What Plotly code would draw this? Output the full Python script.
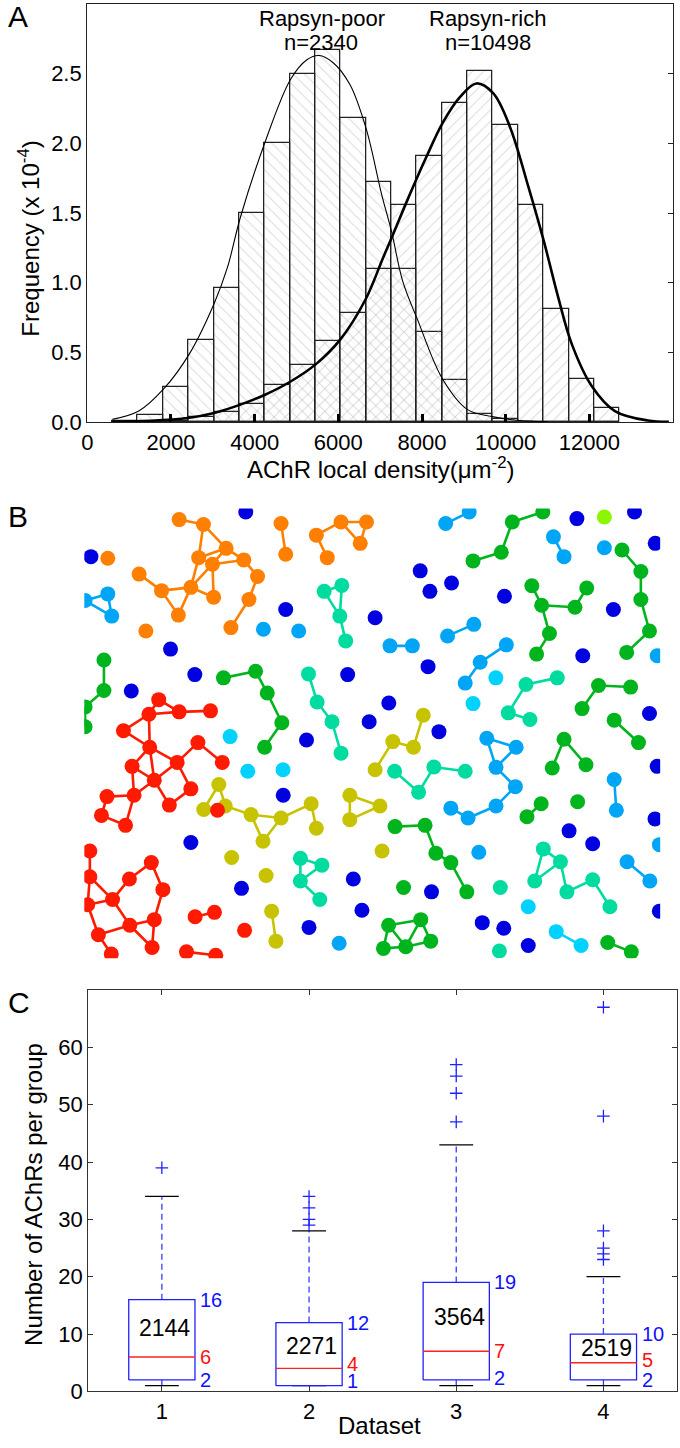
import plotly.graph_objects as go

# ---------------- Panel A data ----------------
bin_edges = [600, 1206, 1812, 2418, 3024, 3630, 4236, 4842, 5448, 6054, 6660,
             7266, 7872, 8478, 9084, 9690, 10296, 10902, 11508, 12114, 12720]
poor_freq = [0.01, 0.05, 0.25, 0.59, 0.96, 1.50, 2.00, 2.50, 2.67, 2.18, 1.72,
             1.10, 0.65, 0.30, 0.06, 0.024, 0.005, 0.0, 0.0, 0.0]
rich_freq = [0.0, 0.003, 0.01, 0.038, 0.071, 0.133, 0.27, 0.41, 0.58, 0.78, 1.10,
             1.56, 1.91, 2.29, 2.52, 2.13, 1.56, 0.81, 0.31, 0.104]
poor_fit_x = [600, 1230, 1830, 2440, 3030, 3350, 3660, 4250, 4860, 5250, 5540,
              5870, 6280, 6670, 7030, 7270, 7540, 7900, 8490, 9090, 9680, 10270, 11000]
poor_fit_y = [0.02, 0.08, 0.24, 0.49, 0.85, 1.11, 1.47, 2.01, 2.46, 2.60, 2.63,
              2.58, 2.42, 2.10, 1.64, 1.37, 1.01, 0.73, 0.31, 0.09, 0.04, 0.014, 0.003]
rich_fit_x = [600, 1500, 2400, 3030, 3660, 4250, 4850, 5480, 6040, 6650, 7070, 7270,
              7660, 8100, 8500, 8900, 9300, 9700, 10100, 10550, 10910, 11260, 11580,
              12055, 12610, 13400, 13900]
rich_fit_y = [0.003, 0.01, 0.03, 0.066, 0.126, 0.197, 0.29, 0.42, 0.59, 0.88, 1.18, 1.32,
              1.60, 1.90, 2.15, 2.33, 2.43, 2.36, 2.12, 1.68, 1.30, 0.89, 0.56,
              0.26, 0.08, 0.012, 0.003]
a_xticks = [0, 2000, 4000, 6000, 8000, 10000, 12000]
a_xticktext = ["0", "2000", "4000", "6000", "8000", "10000", "12000"]
a_yticks = [0.0, 0.5, 1.0, 1.5, 2.0, 2.5]
a_yticktext = ["0.0", "0.5", "1.0", "1.5", "2.0", "2.5"]
group_names = ["Rapsyn-poor", "Rapsyn-rich"]
group_n = ["n=2340", "n=10498"]

# ---------------- Panel B data (positions in image units) ----------------
orange_x = [95.7, 120.2, 198.5, 259, 284.7, 234.1, 278.4, 245.1, 23.7, 55.3, 77.9, 115.4, 129.3,
            143.1, 160.9, 203.2, 107.5, 130.5, 174.8, 166.1, 94.9, 62.1, 147.9]
orange_y = [11.3, 16.3, 15.3, 13.7, 13.7, 27, 35.3, 49.7, 50.3, 66.3, 83, 49.7, 56.3,
            40.3, 52, 46.3, 79.7, 89.7, 68.7, 92, 107.7, 123.7, 120.3]
blue_x = [162.9, 6.7, 338.9, 348.7, 370.5, 423.9, 533.8, 203.2, 293.4, 87, 111.5, 47.4, 265.7,
          346.8, 502.9, 307.2, 287.4, 357.8, 224.2, 570.2, 497, 555.1, 576, 578,
          107.5, 158.6, 200.7, 271.4, 280.1, 226.7, 350.3, 401.5, 423.2, 447.9, 489.1,
          512.9, 575.8, 580.2]
blue_y = [3.7, 48.7, 63, 83.7, 75.3, 88.7, 102, 102, 110.3, 142, 167.7, 184.3, 167.7,
          159.7, 148.7, 196.3, 215.3, 225.3, 233.7, 207, 10.3, 3.7, 35.3, 260.3,
          337.1, 383.4, 289.5, 373.9, 405.5, 422.8, 386.9, 418, 423.7, 441, 325.4,
          338.4, 313.3, 406.4]
lime_x = [524.7]
lime_y = [8.7]
sky_x = [364.6, 388.3, 473.3, 484, 524.7, 23.7, 27.7, 0.8, 180.7, 216.3, 308.4, 331, 366.5,
         393, 399.4, 425.8, 406.1, 435.7, 384.3, 578, 369.8, 387.2, 398, 415.4, 434.9,
         415.4, 536.8, 547.6, 570.6, 580.2, 257.1, 534.6]
sky_y = [15.3, 3.7, 28.7, 48.7, 39.7, 86.3, 108.7, 93, 122, 123.7, 138.7, 138.7, 128.7,
         117, 155.3, 137.7, 232, 241, 176.3, 148.7, 302.5, 312.4, 347, 300.3, 280.8,
         261.3, 304.6, 356.6, 376, 339.3, 438.8, 273.5]
cyan_x = [415.2, 392.2, 147.1, 164.9, 200.5, 447.9, 476.1, 501.2]
cyan_y = [171, 197, 230.3, 265.3, 263.7, 402, 427.1, 441]
teal_x = [242, 259.8, 257.8, 263.7, 226.2, 234.9, 249.9, 259, 445.6, 477.2, 427.8, 449.6,
          313.1, 352.7, 384.3, 218, 239.7, 218, 237.6, 337.3, 463.1, 480.4, 419.7, 454.4,
          486.9, 512.9, 530.3, 418.8]
teal_y = [83.7, 77.7, 108.7, 133.7, 167, 195.3, 215.3, 247, 177.7, 171, 206.3, 213,
          265.3, 261, 265.3, 353.1, 360, 376, 394.7, 286.4, 343.6, 356.6, 382.5, 376,
          386.9, 374.7, 402, 446.6]
green_x = [431.8, 462.6, 392.2, 420.7, 542.5, 561.5, 561.5, 570.2, 451.5, 506.9, 461.4, 495,
           469.3, 456.3, 547.2, 518.8, 551.2, 502.2, 534.6, 559.1, 484, 506.1, 472.1, 19.8,
           19.8, 0.8, 0.8, 140.4, 172.8, 184.6, 199.3, 181.9, 313.5, 343.8, 354.7, 369.8,
           385.9, 322.1, 339.5, 307, 301.8, 324.3, 349.5, 460.9, 497.7, 446.6, 528.1, 551.9]
green_y = [13.7, 3.7, 53, 44.3, 42, 63.7, 92, 123.7, 78, 80.3, 97.7, 99.7, 126.3, 147,
           145.3, 178.7, 180.3, 202, 213.7, 236.3, 233, 258.7, 262, 153, 183.7, 200.3,
           220.3, 171, 164.3, 186.3, 216.3, 241, 321.1, 319.8, 347.9, 357.4, 386.9, 382.5,
           415, 420.6, 444, 442.3, 436.7, 298.1, 296, 311.1, 438, 447.5]
yellow_x = [342, 311.2, 332.1, 293.4, 135.7, 120.5, 142.2, 168.2, 198.5, 228.9, 234.1, 267.9,
            267.9, 298.3, 300.4, 180.3, 148.7, 183.4, 189, 193.3]
yellow_y = [208.7, 235.3, 241, 263.7, 278.6, 303.8, 300.3, 309, 312.4, 298.1, 322.8, 314.1,
            289.5, 300.3, 345.7, 335.8, 352.2, 370.4, 406.4, 436.7]
red_x = [75.1, 65.2, 95.7, 127.3, 39.5, 114.6, 66, 48.2, 93.7, 139.2, 22.9, 50.2, 70.6, 85.8,
         107.5, 134.4, 17.3, 41.6, 5.6, 5.6, 3.4, 67.6, 45.5, 79.3, 28.5, 70.6, 111.8, 131.3,
         161.7, 45.9, 14.2, 103.1, 132.6, 27.2, 68.4]
red_y = [193, 207.7, 205.3, 204.3, 224.3, 236.3, 241, 260.3, 256.3, 256.3, 290.8, 289.5,
         274.3, 299.4, 283, 304.6, 309.8, 319.8, 345.7, 371.7, 399.9, 357.4, 373.9, 384.7,
         394.7, 415, 412, 407.6, 425.8, 420.6, 430.2, 447.5, 450.9, 449.6, 443.1]

# ---------------- Panel C data ----------------
datasets = [1, 2, 3, 4]
q1_vals = [2, 1, 2, 2]
median_vals = [6, 4, 7, 5]
q3_vals = [16, 12, 19, 10]
whisker_low = [1, 1, 1, 1]
whisker_high = [34, 28, 43, 20]
outlier_vals = [[39], [29, 30, 32, 34], [47, 52, 55, 57], [23, 24, 25, 28, 48, 67]]
group_counts = ["2144", "2271", "3564", "2519"]
c_yticks = [0, 10, 20, 30, 40, 50, 60]

# ---------------- layout helpers ----------------
W, H = 680, 1448
FONT = "Liberation Sans, Arial, Helvetica, sans-serif"


def px(x):
    return x / W


def py(y):
    return 1 - y / H


fig = go.Figure()

# ---- Panel A: histograms ----
centers = [(bin_edges[i] + bin_edges[i + 1]) / 2 for i in range(len(bin_edges) - 1)]
widths = [bin_edges[i + 1] - bin_edges[i] for i in range(len(bin_edges) - 1)]
for freq, shape in [(poor_freq, "\\"), (rich_freq, "/")]:
    fig.add_trace(go.Bar(
        x=centers, y=freq, width=widths, xaxis="x", yaxis="y",
        marker=dict(color="rgba(0,0,0,0)",
                    line=dict(color="#222", width=1.3),
                    pattern=dict(shape=shape, fgcolor="#b4b4b4", bgcolor="rgba(0,0,0,0)",
                                 size=8, solidity=0.12)),
        hoverinfo="skip"))
fig.add_trace(go.Scatter(x=poor_fit_x, y=poor_fit_y, mode="lines", line_shape="spline",
                         line=dict(color="black", width=1.1), xaxis="x", yaxis="y"))
fig.add_trace(go.Scatter(x=rich_fit_x, y=rich_fit_y, mode="lines", line_shape="spline",
                         line=dict(color="black", width=2.6), xaxis="x", yaxis="y"))
fig.add_trace(go.Scatter(x=[0], y=[0], mode="markers", marker=dict(opacity=0),
                         xaxis="x", yaxis="y4", hoverinfo="skip"))

# ---- Panel B: network ----
groups = [
    (orange_x, orange_y, "#ff7f00", 34),
    (blue_x, blue_y, "#0000e0", 0),
    (lime_x, lime_y, "#8cf500", 0),
    (sky_x, sky_y, "#00a6f5", 34),
    (cyan_x, cyan_y, "#00d2ff", 34),
    (teal_x, teal_y, "#00dca0", 34),
    (green_x, green_y, "#00b41e", 34),
    (yellow_x, yellow_y, "#c8c300", 34),
    (red_x, red_y, "#ff1a00", 34),
]


def links(xs, ys, maxd):
    lx, ly = [], []
    for i in range(len(xs)):
        for j in range(i + 1, len(xs)):
            if (xs[i] - xs[j]) ** 2 + (ys[i] - ys[j]) ** 2 <= maxd ** 2:
                lx += [xs[i], xs[j], None]
                ly += [ys[i], ys[j], None]
    return lx, ly


for xs, ys, col, maxd in groups:
    if maxd > 0:
        lx, ly = links(xs, ys, maxd)
        fig.add_trace(go.Scatter(x=lx, y=ly, mode="lines", line=dict(color=col, width=2.6),
                                 xaxis="x2", yaxis="y2", hoverinfo="skip"))
for xs, ys, col, maxd in groups:
    fig.add_trace(go.Scatter(x=xs, y=ys, mode="markers",
                             marker=dict(color=col, size=15, line=dict(width=0)),
                             xaxis="x2", yaxis="y2", hoverinfo="skip"))

# ---- Panel C: box plots ----
BW = 0.45
CAP = 0.23
for i, d in enumerate(datasets):
    x0, x1 = d - BW / 2, d + BW / 2
    fig.add_trace(go.Scatter(x=[d, d, None, d, d], y=[q3_vals[i], whisker_high[i], None,
                                                       whisker_low[i], q1_vals[i]],
                             mode="lines", line=dict(color="#3a3aff", width=1.3, dash="6px,4px"),
                             xaxis="x3", yaxis="y3"))
    fig.add_trace(go.Scatter(x=[d - CAP / 2, d + CAP / 2, None, d - CAP / 2, d + CAP / 2],
                             y=[whisker_high[i], whisker_high[i], None, whisker_low[i], whisker_low[i]],
                             mode="lines", line=dict(color="black", width=1.3),
                             xaxis="x3", yaxis="y3"))
    fig.add_trace(go.Scatter(x=[x0, x1, x1, x0, x0],
                             y=[q1_vals[i], q1_vals[i], q3_vals[i], q3_vals[i], q1_vals[i]],
                             mode="lines", line=dict(color="#2020ff", width=1.3),
                             xaxis="x3", yaxis="y3"))
    fig.add_trace(go.Scatter(x=[x0, x1], y=[median_vals[i], median_vals[i]], mode="lines",
                             line=dict(color="#ff2020", width=1.3), xaxis="x3", yaxis="y3"))
    fig.add_trace(go.Scatter(x=[d] * len(outlier_vals[i]), y=outlier_vals[i], mode="markers",
                             marker=dict(symbol="cross-thin", size=9,
                                         line=dict(color="#2020ff", width=1.3)),
                             xaxis="x3", yaxis="y3"))

# ---- axes ----
axis_font = dict(family=FONT, size=22, color="black")
fig.update_layout(
    width=W, height=H, margin=dict(l=0, r=0, t=0, b=0),
    paper_bgcolor="white", plot_bgcolor="white", showlegend=False,
    barmode="overlay", bargap=0,
    font=dict(family=FONT, color="black"),
    xaxis=dict(domain=[px(82), px(673)], range=[0, 14000], tickvals=a_xticks,
               ticktext=a_xticktext,
               ticks="inside", ticklen=8, tickwidth=3, tickcolor="black",
               showline=True, linecolor="#222", linewidth=1.3, mirror=True,
               showgrid=False, zeroline=False, tickfont=axis_font, anchor="y"),
    yaxis=dict(domain=[py(426), py(4)], range=[0, 3.0], tickvals=a_yticks,
               ticktext=a_yticktext, ticks="", showline=True, linecolor="#222",
               linewidth=1.3, mirror=True, showgrid=False, zeroline=False,
               tickfont=axis_font, anchor="x"),
    yaxis4=dict(overlaying="y", side="right", range=[0, 3.0], tickvals=a_yticks,
                showticklabels=False, ticks="inside", ticklen=5, tickwidth=1,
                tickcolor="#222", showline=False, showgrid=False, zeroline=False,
                anchor="x"),
    xaxis2=dict(domain=[px(79), px(660)], range=[0, 581], visible=False, anchor="y2"),
    yaxis2=dict(domain=[py(967), py(513)], range=[454, 0], visible=False, anchor="x2"),
    xaxis3=dict(domain=[px(83), px(677)], range=[0.5, 4.5], tickvals=datasets,
                ticks="inside", ticklen=5, tickwidth=1, tickcolor="#333",
                showline=True, linecolor="#333", linewidth=1.3, mirror="ticks",
                showgrid=False, zeroline=False, tickfont=axis_font, anchor="y3"),
    yaxis3=dict(domain=[py(1404), py(999)], range=[0, 70], tickvals=c_yticks,
                ticks="inside", ticklen=5, tickwidth=1, tickcolor="#333",
                showline=True, linecolor="#333", linewidth=1.3, mirror="ticks",
                showgrid=False, zeroline=False, tickfont=axis_font, anchor="x3"),
)

ann = []


def add_text(text, x, y, size, **kw):
    d = dict(text=text, x=px(x), y=py(y), xref="paper", yref="paper", showarrow=False,
             xanchor="center", yanchor="middle",
             font=dict(family=FONT, size=size, color=kw.pop("color", "black")))
    d.update(kw)
    ann.append(d)


add_text("A", 0, -2, 30, xanchor="left", yanchor="top")
add_text("B", 0, 503, 30, xanchor="left", yanchor="top")
add_text("C", 0, 993, 30, xanchor="left", yanchor="top")
add_text(group_names[0], 319, 19, 22)
add_text(group_n[0], 318, 43, 22)
add_text(group_names[1], 486, 19, 22)
add_text(group_n[1], 486, 43, 22)
add_text("Frequency (x 10<sup>-4</sup>)", 23, 241, 24, textangle=-90)
add_text("AChR local density(μm<sup>-2</sup>)", 378, 472, 24)
add_text("Number of AChRs per group", 27, 1205, 24, textangle=-90)
add_text("Dataset", 377, 1438, 24)

med_shift = [0, 4, 0, 3]
q1_shift = [0, 5, 2, 0]
for i, d in enumerate(datasets):
    ann.append(dict(text=group_counts[i], x=d + 0.02, y=(median_vals[i] + q3_vals[i]) / 2,
                    xref="x3", yref="y3", showarrow=False, xanchor="center", yanchor="middle",
                    font=dict(family=FONT, size=23, color="black")))
    right = d + BW / 2
    for val, col, sh in [(q3_vals[i], "#1010ff", 0), (median_vals[i], "#ff1010", med_shift[i]),
                         (q1_vals[i], "#1010ff", q1_shift[i])]:
        ann.append(dict(text=str(val), x=right, y=val, xref="x3", yref="y3", showarrow=False,
                        xanchor="left", yanchor="middle", xshift=3, yshift=sh,
                        font=dict(family=FONT, size=20, color=col)))

fig.update_layout(annotations=ann)
fig.write_html("out.html", config={"displayModeBar": False},
               post_script="document.body.style.margin='0';document.body.style.padding='0';"
                           "document.documentElement.style.overflow='hidden';")
